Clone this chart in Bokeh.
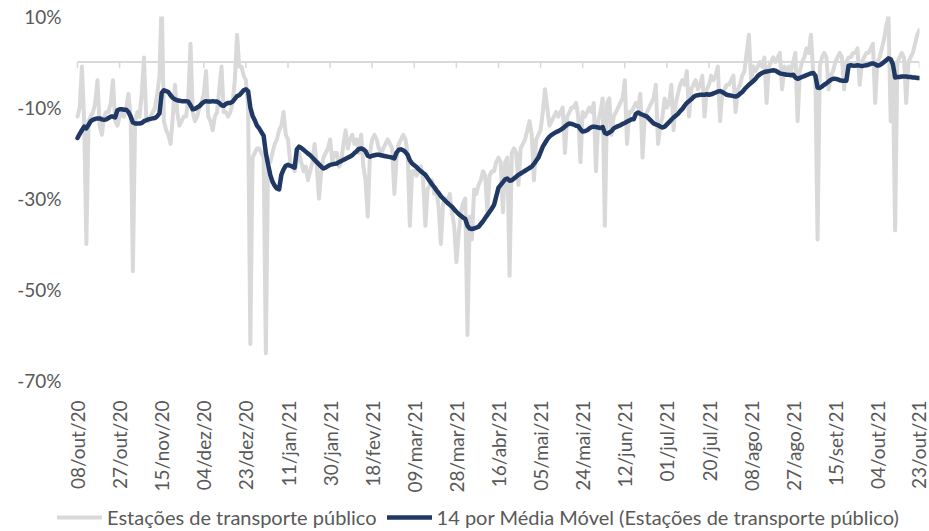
import math
import datetime as dt
from bokeh.plotting import figure
from bokeh.layouts import column
from bokeh.models import Range1d, FixedTicker, Legend, LegendItem
from bokeh.embed import file_html
from bokeh.resources import INLINE

# ---------------- data ----------------
start_date = (2020, 10, 8)
month_abbr = ["jan", "fev", "mar", "abr", "mai", "jun", "jul", "ago", "set", "out", "nov", "dez"]

tick_labels = ["08/out/20", "27/out/20", "15/nov/20", "04/dez/20", "23/dez/20", "11/jan/21",
               "30/jan/21", "18/fev/21", "09/mar/21", "28/mar/21", "16/abr/21", "05/mai/21",
               "24/mai/21", "12/jun/21", "01/jul/21", "20/jul/21", "08/ago/21", "27/ago/21",
               "15/set/21", "04/out/21", "23/out/21"]

y_ticks = [10, -10, -30, -50, -70]
y_tick_labels = ["10%", "-10%", "-30%", "-50%", "-70%"]

series_names = ["Estações de transporte público",
                "14 por Média Móvel (Estações de transporte público)"]

# daily values (%), one row per week starting on Thursday
transit = [
    -12, -10, -1, -13, -40, -13, -12,
    -11, -9, -4, -14, -16, -12, -11,
    -11, -9, -4, -13, -14, -12, -11,
    -12, -10, -7, -12, -46, -13, -11,
    -12, -7, 1, -12, -13, -12, -11,
    -10, -7, -3, 14, -13, -15, -16,
    -18, -12, -5, -11, -14, -13, -12,
    -12, -8, 4, -11, -13, -12, -10,
    -9, -7, -2, -12, -13, -15, -12,
    -11, -6, -1, -11, -11, -12, -11,
    -9, -4, 6, -1, -1, -3, -4,
    -10, -62, -21, -20, -19, -19, -20,
    -21, -64, -22, -22, -20, -18, -17,
    -15, -14, -11, -16, -17, -22, -23,
    -24, -22, -20, -22, -24, -23, -26,
    -24, -22, -18, -23, -30, -24, -21,
    -20, -19, -17, -22, -20, -20, -23,
    -22, -18, -15, -19, -17, -16, -18,
    -17, -20, -16, -23, -26, -34, -20,
    -17, -16, -17, -19, -20, -19, -18,
    -17, -18, -19, -29, -21, -18, -17,
    -16, -17, -20, -36, -24, -24, -25,
    -24, -23, -26, -36, -28, -27, -26,
    -29, -28, -32, -40, -31, -30, -31,
    -29, -33, -36, -44, -38, -33, -31,
    -30, -60, -34, -39, -28, -29, -27,
    -26, -24, -25, -33, -25, -24, -24,
    -22, -21, -22, -33, -22, -21, -47,
    -20, -19, -20, -27, -19, -18, -17,
    -15, -13, -16, -26, -17, -16, -15,
    -11, -6, -10, -14, -13, -12, -11,
    -12, -11, -10, -20, -12, -11, -10,
    -10, -9, -12, -22, -11, -12, -11,
    -10, -11, -9, -24, -13, -11, -8,
    -36, -9, -8, -16, -12, -11, -10,
    -9, -8, -4, -18, -11, -11, -10,
    -9, -10, -7, -21, -12, -11, -10,
    -9, -8, -5, -18, -14, -12, -8,
    -10, -9, -5, -15, -9, -7, -5,
    -4, -5, -2, -12, -6, -5, -4,
    -6, -5, -3, -12, -6, -5, -3,
    -4, -3, -1, -13, -7, -6, -5,
    -5, -4, -3, -11, -6, -5, -3,
    -2, 2, 6, -4, -1, -2, -1,
    0, -1, 1, -9, -1, 0, 1,
    0, 1, 2, -6, -1, -2, -1,
    -2, 0, 2, -13, -2, 0, 1,
    3, 2, 6, -2, -3, -39, -1,
    1, 2, 1, -6, -3, -2, 0,
    1, 2, 1, -6, 0, 1, 1,
    2, 2, 3, -5, 0, 1, 2,
    2, 3, 4, -9, 0, 1, 3,
    5, 8, 10, -13, -3, -37, 0,
    1, 2, 1, -9, 0, 1, 2,
    4, 6, 7,
]

ma14 = [
    -16.7, -15.8, -15.0, -14.2, -14.6, -13.8, -13.0, -12.7, -12.5, -12.4,
    -12.4, -12.6, -12.7, -12.6, -12.3, -12.0, -12.0, -12.2, -10.6, -10.4,
    -10.4, -10.5, -10.5, -11.0, -12.0, -13.3, -13.5, -13.5, -13.5, -13.4,
    -13.0, -12.8, -12.6, -12.5, -12.4, -12.3, -11.9, -11.3, -6.8, -6.2,
    -6.4, -6.6, -7.3, -7.9, -8.2, -8.4, -8.5, -8.6, -8.6, -8.6,
    -8.7, -9.5, -10.4, -10.3, -10.0, -9.7, -9.2, -8.8, -8.6, -8.7,
    -8.7, -8.6, -8.7, -8.7, -9.0, -9.5, -9.6, -9.2, -9.0, -9.0,
    -8.7, -8.1, -7.5, -7.3, -6.8, -6.2, -6.0, -6.4, -10.0, -11.8,
    -12.8, -14.0, -14.6, -15.4, -16.2, -20.0, -22.5, -24.8, -26.3, -27.2,
    -27.8, -28.0, -24.8, -23.6, -22.8, -22.6, -22.8, -23.0, -23.2, -19.2,
    -18.6, -18.9, -19.3, -19.7, -20.1, -20.5, -21.0, -21.5, -22.0, -22.5,
    -23.0, -23.4, -23.2, -22.9, -22.6, -22.5, -22.4, -22.3, -22.0, -21.8,
    -21.5, -21.3, -21.0, -20.8, -20.5, -20.0, -19.6, -19.1, -19.0, -19.2,
    -19.6, -20.6, -20.8, -20.6, -20.5, -20.4, -20.4, -20.5, -20.6, -20.7,
    -20.8, -20.9, -21.0, -21.2, -19.9, -19.3, -19.2, -19.4, -19.8, -20.4,
    -21.6, -22.3, -22.7, -23.1, -23.6, -24.0, -24.4, -24.8, -25.5, -26.2,
    -26.9, -27.5, -28.2, -28.8, -29.5, -30.0, -30.5, -31.0, -31.4, -31.8,
    -32.4, -32.9, -33.4, -33.8, -34.2, -34.5, -36.0, -36.6, -36.7, -36.6,
    -36.4, -36.2, -35.6, -35.0, -34.3, -33.6, -32.9, -32.2, -31.4, -29.5,
    -27.6, -27.0, -26.4, -25.8, -25.6, -26.1, -26.0, -25.6, -25.2, -24.8,
    -24.5, -24.2, -23.9, -23.6, -23.3, -23.0, -22.4, -21.7, -21.0, -19.8,
    -18.6, -17.8, -17.0, -16.4, -16.0, -15.7, -15.4, -15.2, -14.9, -14.6,
    -14.2, -13.8, -13.5, -13.6, -13.8, -14.0, -14.1, -14.8, -15.3, -15.2,
    -15.0, -14.6, -14.3, -14.2, -14.3, -14.4, -14.5, -14.3, -15.6, -15.8,
    -15.5, -15.2, -14.6, -14.3, -14.1, -13.9, -13.6, -13.4, -13.1, -12.9,
    -12.6, -12.6, -11.4, -11.1, -11.4, -11.6, -11.8, -12.0, -12.5, -13.0,
    -13.5, -13.7, -13.9, -14.2, -14.4, -14.2, -13.7, -13.2, -12.7, -12.2,
    -11.8, -11.4, -10.8, -10.3, -9.6, -9.0, -8.6, -8.2, -7.7, -7.4,
    -7.3, -7.2, -7.2, -7.2, -7.1, -7.2, -7.1, -6.9, -6.7, -6.5,
    -6.4, -6.6, -6.9, -7.2, -7.3, -7.4, -7.5, -7.6, -7.4, -7.0,
    -6.6, -6.0, -5.5, -5.0, -4.6, -4.2, -3.7, -3.1, -2.7, -2.4,
    -2.2, -2.1, -2.0, -1.9, -1.8, -1.9, -2.2, -2.5, -2.6, -2.7,
    -2.8, -2.8, -2.9, -2.8, -3.4, -3.7, -3.5, -3.3, -3.1, -2.9,
    -2.7, -2.5, -2.4, -3.0, -5.6, -5.7, -5.4, -5.0, -4.7, -4.3,
    -3.9, -3.7, -3.7, -3.8, -4.0, -4.1, -4.1, -4.1, -0.8, -0.7,
    -0.8, -0.8, -0.7, -0.8, -0.9, -0.8, -0.7, -0.6, -0.4, -0.3,
    -0.5, -0.8, -0.7, -0.4, 0.0, 0.4, 0.8, 0.6, -0.5, -3.4,
    -3.3, -3.3, -3.2, -3.2, -3.2, -3.3, -3.3, -3.4, -3.4, -3.5,
    -3.5,
]

# ---------------- derived positions ----------------
d0 = dt.date(*start_date)
dates = [d0 + dt.timedelta(days=i) for i in range(len(transit))]
date_labels = ["%02d/%s/%02d" % (d.day, month_abbr[d.month - 1], d.year % 100) for d in dates]
xs = list(range(len(dates)))
tick_pos = [date_labels.index(t) for t in tick_labels]

GRAY = "#D9D9D9"
NAVY = "#1F3864"
TEXT = "#595959"
FONT = "Lato"
FS = "19px"

W = 929
H_MAIN = 500
H_LEG = 31
FRAME_LEFT = 55          # frame starts where the legend starts
DATA_LEFT = 77           # first data point / first tick sits here
FRAME_RIGHT = 919
px_per_day = (FRAME_RIGHT - DATA_LEFT) / (xs[-1] - xs[0])
x_start = xs[0] - (DATA_LEFT - FRAME_LEFT) / px_per_day

p = figure(width=W, height=H_MAIN, output_backend="svg", toolbar_location=None,
           x_range=Range1d(x_start, xs[-1]), y_range=Range1d(-70, 10),
           min_border_left=FRAME_LEFT, min_border_right=W - FRAME_RIGHT, min_border_top=16,
           min_border_bottom=H_MAIN - 16 - 364)
p.outline_line_color = None
p.grid.visible = False
p.background_fill_color = "white"
p.border_fill_color = "white"

# zero line (category axis crossing) with tick marks
p.segment(x0=[xs[0]], y0=[0], x1=[xs[-1]], y1=[0], line_color=GRAY, line_width=2, level="underlay")
p.segment(x0=tick_pos, y0=[0] * len(tick_pos), x1=tick_pos, y1=[-1.4] * len(tick_pos),
          line_color=GRAY, line_width=1.5, level="underlay")

r1 = p.line(xs, transit, line_color=GRAY, line_width=4, line_join="round", line_cap="round")
r2 = p.line(xs, ma14, line_color=NAVY, line_width=4.5, line_join="round", line_cap="round")

# x axis (labels at bottom)
p.xaxis.ticker = FixedTicker(ticks=tick_pos)
p.xaxis.major_label_overrides = {pos: lab for pos, lab in zip(tick_pos, tick_labels)}
p.xaxis.major_label_orientation = math.pi / 2
p.xaxis.axis_line_color = None
p.xaxis.major_tick_line_color = None
p.xaxis.minor_tick_line_color = None
p.xaxis.major_label_standoff = 14
p.xaxis.major_label_text_font = FONT
p.xaxis.major_label_text_font_size = FS
p.xaxis.major_label_text_color = TEXT

# y axis
p.yaxis.ticker = FixedTicker(ticks=y_ticks)
p.yaxis.major_label_overrides = {v: lab for v, lab in zip(y_ticks, y_tick_labels)}
p.yaxis.axis_line_color = None
p.yaxis.major_tick_line_color = None
p.yaxis.minor_tick_line_color = None
p.yaxis.major_label_standoff = 10 - (DATA_LEFT - FRAME_LEFT)
p.yaxis.major_label_text_font = FONT
p.yaxis.major_label_text_font_size = FS
p.yaxis.major_label_text_color = TEXT

# legend strip below the chart (its frame is aligned with the main frame)
pl = figure(width=W, height=H_LEG, output_backend="svg", toolbar_location=None,
            x_axis_type=None, y_axis_type=None,
            x_range=Range1d(0, 1), y_range=Range1d(0, 1),
            min_border_left=0, min_border_right=0, min_border_top=0, min_border_bottom=0)
pl.grid.visible = False
pl.outline_line_color = None
l1 = pl.line([-5, -4], [-5, -4], line_color=GRAY, line_width=4, line_cap="round")
l2 = pl.line([-5, -4], [-5, -4], line_color=NAVY, line_width=4.5, line_cap="round")
legend = Legend(items=[LegendItem(label=series_names[0], renderers=[l1]),
                       LegendItem(label=series_names[1], renderers=[l2])],
                location=(2, 2), orientation="horizontal",
                padding=0, margin=0, spacing=10, glyph_width=45, glyph_height=20,
                label_standoff=5, border_line_color=None, background_fill_alpha=0,
                label_text_font=FONT, label_text_font_size="20px", label_text_color=TEXT)
pl.add_layout(legend, "center")

layout = column(p, pl, spacing=0)
open("out.html", "w").write(file_html(layout, INLINE))
